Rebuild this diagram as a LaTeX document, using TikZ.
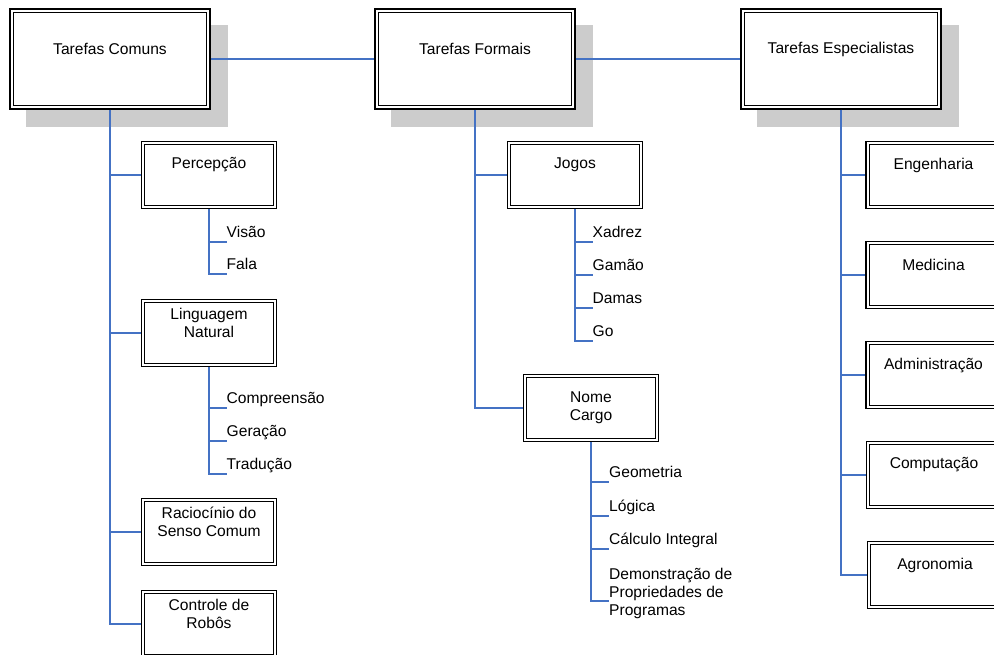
\documentclass[tikz,border=0pt]{standalone}
\usepackage{fontspec}
\setmainfont{Liberation Sans}
\usetikzlibrary{backgrounds}
\definecolor{linkblue}{RGB}{68,114,196}
\definecolor{shadowgray}{RGB}{204,204,204}

\begin{document}
\begin{tikzpicture}[x=1pt,y=-1pt,
  font=\fontsize{15.6}{18}\selectfont,
  framed/.style={draw=black, line width=1.8pt, fill=white, inner sep=0pt,
    path picture={\draw[line width=1.1pt]
      ([shift={(3.2pt,-3.2pt)}]path picture bounding box.north west) rectangle
      ([shift={(-3.2pt,3.2pt)}]path picture bounding box.south east);}},
  topbox/.style={framed, minimum width=200pt, minimum height=100pt},
  subbox/.style={framed, minimum width=135pt, minimum height=67pt},
  caption/.style={inner sep=0pt, align=center},
  leaf/.style={inner sep=0pt, anchor=base west, align=left},
  link/.style={draw=linkblue, line width=1.3pt},
  shade/.style={fill=shadowgray},
]
\useasboundingbox (0,0) rectangle (994,654);
\clip (0,0) rectangle (994,654);

% main categories
\node[topbox] (comuns) at (110,59) {};
\node[topbox] (formais) at (475,59) {};
\node[topbox] (especial) at (841,59) {};
\node[caption] (comuns-t) at ([yshift=10pt]comuns.center) {Tarefas Comuns};
\node[caption] (formais-t) at ([yshift=10pt]formais.center) {Tarefas Formais};
\node[caption] (especial-t) at ([yshift=10pt]especial.center) {Tarefas Especialistas};

% offset shadows behind the main categories
\begin{scope}[on background layer]
  \foreach \n in {comuns,formais,especial}
    \fill[shade] ([shift={(17pt,-17pt)}]\n.south west) rectangle ([shift={(17pt,-17pt)}]\n.north east);
\end{scope}

% common tasks
\node[subbox] (percepcao) at (209,175) {};
\node[caption] (percepcao-t) at ([yshift=10pt]percepcao.center) {Percepção};
\node[subbox] (linguagem) at (209,333) {};
\node[caption] (linguagem-t) at ([yshift=10pt]linguagem.center) {Linguagem\\Natural};
\node[subbox] (raciocinio) at (209,532) {};
\node[caption] (raciocinio-t) at ([yshift=10pt]raciocinio.center) {Raciocínio do\\Senso Comum};
\node[subbox] (controle) at (209,624) {};
\node[caption] (controle-t) at ([yshift=10pt]controle.center) {Controle de\\Robôs};

\node[leaf] (visao) at (226.5,237.5) {Visão};
\node[leaf] (fala) at (226.5,269.5) {Fala};
\node[leaf] (compreensao) at (226.5,403.5) {Compreensão};
\node[leaf] (geracao) at (226.5,436.5) {Geração};
\node[leaf] (traducao) at (226.5,469.5) {Tradução};

% formal tasks
\node[subbox] (jogos) at (575,175) {};
\node[caption] (jogos-t) at ([yshift=10pt]jogos.center) {Jogos};
\node[subbox] (nome) at (591,408) {};
\node[caption] (nome-t) at (nome.center) {Nome\\Cargo};

\node[leaf] (xadrez) at (592.5,237.5) {Xadrez};
\node[leaf] (gamao) at (592.5,270.5) {Gamão};
\node[leaf] (damas) at (592.5,303.5) {Damas};
\node[leaf] (go) at (592.5,336.5) {Go};
\node[leaf] (geometria) at (609,477.5) {Geometria};
\node[leaf] (logica) at (609,511.5) {Lógica};
\node[leaf] (calculo) at (609,544.5) {Cálculo Integral};
\node[leaf] (demonstracao) at (609,615) {Demonstração de\\Propriedades de\\Programas};

% expert tasks
\node[subbox] (engenharia) at (933.5,175) {};
\node[caption] (engenharia-t) at ([yshift=10pt]engenharia.center) {Engenharia};
\node[subbox] (medicina) at (933.5,275) {};
\node[caption] (medicina-t) at ([yshift=10pt]medicina.center) {Medicina};
\node[subbox] (administracao) at (933.5,375) {};
\node[caption] (administracao-t) at ([yshift=10pt]administracao.center) {Administração};
\node[subbox] (computacao) at (934,475) {};
\node[caption] (computacao-t) at ([yshift=10pt]computacao.center) {Computação};
\node[subbox] (agronomia) at (935,575) {};
\node[caption] (agronomia-t) at ([yshift=10pt]agronomia.center) {Agronomia};

% connectors between the main categories
\draw[link] (comuns.east) -- (formais.west);
\draw[link] (formais.east) -- (especial.west);

% category to subcategory
\foreach \c in {percepcao,linguagem,raciocinio,controle}
  \draw[link] (comuns.south) |- (\c.west);
\foreach \c in {jogos,nome}
  \draw[link] (formais.south) |- (\c.west);
\foreach \c in {engenharia,medicina,administracao,computacao,agronomia}
  \draw[link] (especial.south) |- (\c.west);

% subcategory to items
\foreach \c in {visao,fala}
  \draw[link] (percepcao.south) |- ([yshift=-4.5pt]\c.base west);
\foreach \c in {compreensao,geracao,traducao}
  \draw[link] (linguagem.south) |- ([yshift=-4.5pt]\c.base west);
\foreach \c in {xadrez,gamao,damas,go}
  \draw[link] (jogos.south) |- ([yshift=-4.5pt]\c.base west);
\foreach \c in {geometria,logica,calculo}
  \draw[link] (nome.south) |- ([yshift=-4.5pt]\c.base west);
\draw[link] (nome.south) |- ([yshift=14pt]demonstracao.base west);
\end{tikzpicture}
\end{document}
